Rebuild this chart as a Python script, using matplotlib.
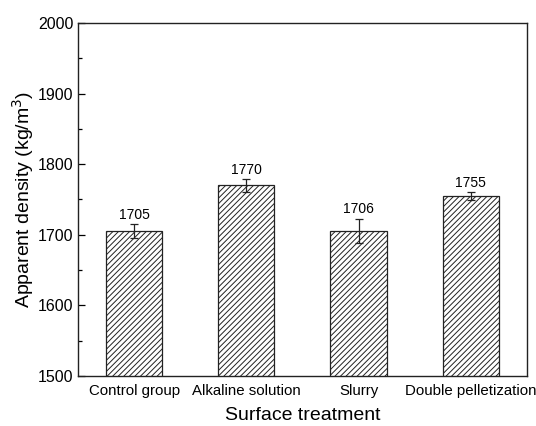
import matplotlib
matplotlib.use("Agg")
import matplotlib.pyplot as plt
from matplotlib.ticker import MultipleLocator

plt.rcParams['font.family'] = ['Liberation Sans', 'DejaVu Sans']
plt.rcParams['hatch.linewidth'] = 0.7

treatments = ['Control group', 'Alkaline solution', 'Slurry', 'Double pelletization']
density = [1705, 1770, 1706, 1755]
density_err = [10, 9, 17, 6]

fig = plt.figure(figsize=(5.36, 4.26), dpi=100)
ax = fig.add_axes([0.1455, 0.1174, 0.8375, 0.8286])

pos = range(1, len(treatments) + 1)
ax.bar(pos, density, width=0.5, color='white', edgecolor='#222222',
       linewidth=0.9, hatch='//////', zorder=2)
ax.errorbar(pos, density, yerr=density_err, fmt='none', ecolor='#222222',
            elinewidth=0.9, capsize=3, capthick=0.9, zorder=3)

for x, v, e in zip(pos, density, density_err):
    ax.annotate(str(v), (x, v + e), xytext=(0, 1.5), textcoords='offset points',
                ha='center', va='bottom', fontsize=10)

ax.set_xlim(0.5, 4.5)
ax.set_ylim(1500, 2000)
ax.set_xticks(list(pos))
ax.set_xticklabels(treatments, fontsize=10.8)
ax.tick_params(axis='x', length=0, pad=6)
ax.yaxis.set_major_locator(MultipleLocator(100))
ax.yaxis.set_minor_locator(MultipleLocator(50))
ax.tick_params(axis='y', which='major', direction='in', length=5, width=0.9, labelsize=11.5)
ax.tick_params(axis='y', which='minor', direction='in', length=3, width=0.9)

for s in ax.spines.values():
    s.set_linewidth(1.0)
    s.set_color('#222222')

ax.set_xlabel('Surface treatment', fontsize=14, labelpad=6)
ax.set_ylabel('Apparent density (kg/m$^3$)', fontsize=14, labelpad=1)

fig.savefig('out.png', dpi=100)
